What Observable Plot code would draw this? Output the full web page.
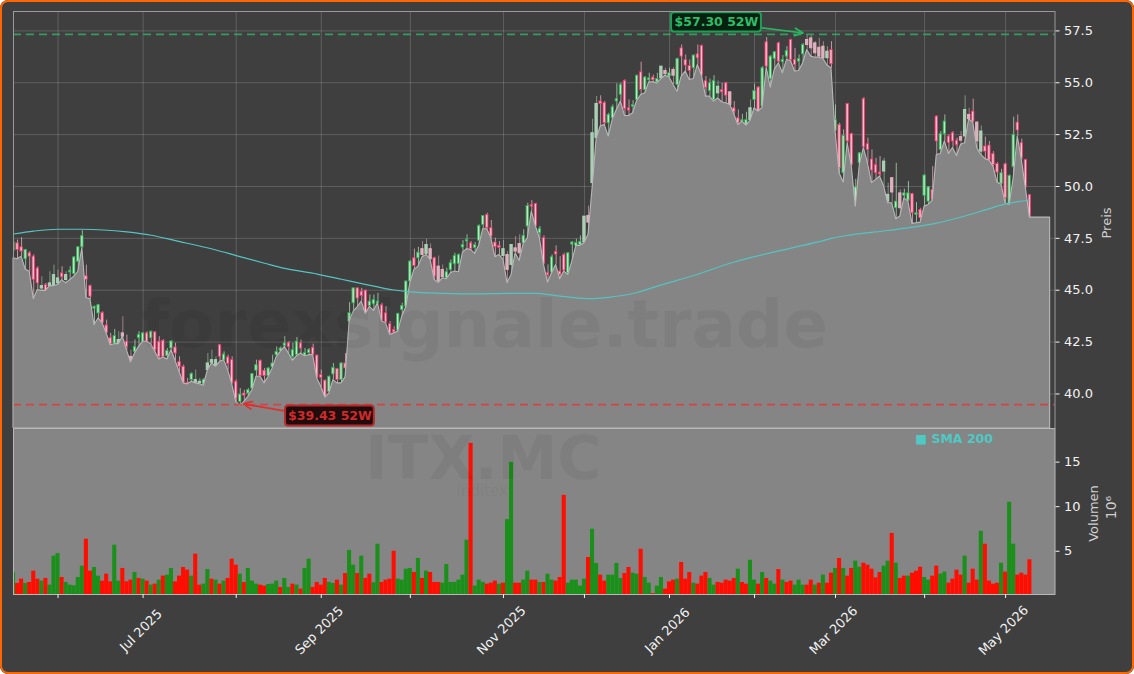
<!DOCTYPE html>
<html><head><meta charset="utf-8">
<script src="https://cdn.jsdelivr.net/npm/d3@7"></script>
<script src="https://cdn.jsdelivr.net/npm/@observablehq/plot@0.6"></script>
<style>
html,body{margin:0;padding:0;background:#fff;}
#chart{position:relative;width:1134px;height:674px;overflow:hidden;background:#3f3f3f;border-radius:8px;}
#chart svg{position:absolute;left:0;display:block;}
#edge{position:absolute;inset:0;border:2.5px solid #ff6600;border-radius:8px;box-sizing:border-box;pointer-events:none;}
</style></head><body>
<div id="chart"><div id="edge"></div></div>
<script>
const opens=[46.9,47.26,47.07,46.49,46.78,46.62,46.05,45.08,45.25,45.2,
45.25,45.33,45.81,45.49,45.86,45.78,46.37,47.07,45.68,45.2,
44.11,43.88,43.91,43.3,42.69,42.43,42.43,42.92,42.52,41.79,
42.03,42.69,42.52,42.92,42.68,42.97,42.52,42.56,41.82,42.19,
42.24,41.55,41.31,40.54,40.67,40.54,40.51,40.47,41.15,41.5,
41.39,42.35,41.63,41.76,41.63,40.59,39.62,40.02,40.02,40.26,
41.12,41.6,41.12,40.87,41.28,41.87,42.08,42.31,42.44,41.79,
41.87,42.44,41.85,41.98,42.23,41.85,40.91,40.64,40.1,40.94,
41.2,40.67,41.47,43.49,44.37,45.09,44.93,44.98,44.24,44.32,
44.37,44.29,43.89,43.37,43.08,43.05,44.05,44.21,45.42,46.54,
46.54,46.98,46.75,46.98,46.54,46.14,45.98,45.58,45.98,46.25,
46.27,47.06,47.35,47.26,47.04,47.39,48.15,48.63,47.99,47.3,
47.14,46.65,46.7,46.22,47.02,47.23,47.26,48.07,49.11,49.16,
47.75,47.51,45.82,45.85,46.85,45.9,46.69,45.82,47.2,47.14,
47.18,47.3,48.58,50.16,52.33,54.1,54.02,53.05,53.29,54.1,
54.42,55.09,53.77,53.85,54.17,55.5,54.65,55.12,55.25,55.02,
55.21,55.57,55.3,55.62,54.89,56.66,56.1,55.81,55.7,56.37,
56.77,55.09,54.6,54.17,54.49,54.65,54.97,54.54,53.77,53.29,
53.13,52.96,53.2,54.17,54.77,53.85,56.95,55.18,56.15,56.9,
55.99,56.26,57.06,56.1,56.02,56.37,57.06,57.14,56.9,56.69,
56.74,56.18,56.58,52.7,52.97,50.64,53.98,52.52,49.27,51.12,
54.21,52.04,51.3,51.04,50.67,50.72,49.27,50.4,48.95,49.67,
49.55,49.32,49.64,48.63,48.87,49.55,49.27,49.84,53.37,51.76,
52.52,52.41,52.57,52.21,52.38,52.41,53.45,53.61,53.08,51.68,
51.93,51.97,51.56,51.09,50.13,51.07,49.16,50.93,53.08,52.09,
51.28,49.58];
const highs=[47.42,47.42,47.53,46.97,46.86,46.7,46.13,45.65,45.33,45.89,
46.21,45.97,46.13,45.89,46.13,46.62,47.1,47.87,46.21,45.25,
44.24,44.32,43.96,43.56,42.92,43.11,43.0,43.72,42.84,42.11,
42.6,43.0,42.95,43.0,43.03,43.0,42.76,42.62,42.19,42.56,
42.44,41.79,41.39,40.75,41.02,41.15,40.75,40.75,41.95,42.11,
41.79,42.39,42.03,41.87,41.79,40.67,40.26,40.18,40.26,40.99,
41.63,41.63,41.23,41.26,41.87,42.27,42.27,42.76,42.52,42.44,
42.72,42.6,42.19,42.19,42.4,41.87,41.15,40.67,40.86,41.47,
41.23,41.5,41.95,44.4,45.09,45.1,45.09,45.0,44.77,44.77,
44.85,44.37,44.21,43.49,43.24,43.89,44.37,45.45,46.43,46.98,
47.07,47.35,47.46,47.23,46.59,46.65,46.22,46.06,46.46,46.78,
46.75,47.39,47.67,47.35,47.3,48.15,48.6,48.71,48.36,47.51,
47.35,47.39,46.86,47.18,47.59,47.67,47.91,49.19,49.32,49.19,
48.07,47.62,46.22,46.7,47.14,46.62,46.78,46.81,47.35,47.46,
47.62,48.55,49.06,53.24,54.34,54.37,54.1,53.53,53.93,54.95,
54.98,55.14,54.18,54.14,55.37,55.99,55.3,55.46,55.37,55.46,
55.78,55.7,55.7,55.73,56.18,56.82,56.34,56.1,56.34,56.82,
56.82,55.3,55.18,55.34,55.09,54.97,55.02,54.57,54.09,53.69,
53.48,53.58,54.17,54.93,54.81,55.78,57.18,56.31,56.5,56.95,
56.31,56.74,57.1,56.66,56.34,56.9,57.3,57.27,56.98,57.14,
56.98,56.74,56.98,53.93,53.05,52.73,54.0,52.57,50.35,51.63,
54.29,52.33,51.76,51.36,51.44,51.36,50.16,50.4,51.12,49.84,
49.87,50.24,49.67,49.23,48.95,50.56,50.0,50.96,53.4,52.65,
53.45,52.49,52.65,52.33,52.65,54.37,53.77,54.21,53.13,52.92,
52.38,52.17,51.68,51.15,50.83,51.12,50.56,53.34,53.45,52.28,
51.31,49.61];
const lows=[46.54,46.49,46.62,46.0,45.89,44.57,45.01,44.97,44.97,45.2,
45.2,45.25,45.49,45.33,45.49,45.65,45.89,47.02,44.61,44.57,
43.32,43.64,43.4,42.92,42.35,42.4,42.4,42.76,42.11,41.52,
41.95,42.27,42.52,42.52,42.4,42.03,41.66,41.76,41.66,42.11,
41.6,41.07,40.51,40.46,40.59,40.51,40.47,40.39,41.15,41.47,
41.31,41.55,41.63,41.15,40.47,39.62,39.43,39.62,39.86,40.18,
40.83,40.83,40.51,40.83,41.23,41.79,42.03,42.27,41.95,41.6,
41.82,41.95,41.82,41.87,41.87,40.75,40.35,39.83,40.02,40.67,
40.51,40.51,40.8,43.49,43.97,44.18,44.45,43.85,44.2,44.0,
44.37,43.49,43.41,42.84,42.92,43.0,43.73,44.18,45.34,45.98,
46.14,46.59,46.7,46.46,45.5,45.34,45.58,45.53,45.82,45.9,
45.87,46.81,46.98,46.94,46.75,47.14,47.94,47.94,47.5,46.59,
46.7,46.46,45.34,45.74,46.78,46.41,47.23,47.5,48.79,48.07,
47.5,46.22,45.37,45.82,46.22,45.53,45.9,45.74,46.38,47.14,
47.14,47.26,47.67,49.9,52.28,52.89,52.97,52.41,53.24,53.69,
54.1,53.4,53.4,53.53,54.12,54.41,54.49,55.02,55.02,54.97,
55.18,55.34,55.25,54.89,54.57,55.3,55.54,55.13,55.18,55.86,
55.34,54.33,54.33,54.09,54.25,54.06,54.01,53.93,53.48,52.96,
53.13,52.93,53.16,53.77,53.61,53.8,55.73,54.76,55.62,55.94,
55.46,56.1,56.05,55.54,55.57,55.94,56.58,56.26,56.21,56.21,
56.15,55.83,55.7,52.65,50.64,50.19,52.09,50.99,49.03,51.04,
51.85,51.12,50.16,50.32,50.48,50.0,49.19,49.19,48.42,48.55,
49.43,49.27,48.2,48.23,48.26,49.03,49.11,49.32,51.52,51.57,
52.17,51.57,51.85,51.47,52.01,52.09,53.24,53.08,51.85,51.52,
51.32,51.25,50.96,50.19,50.08,49.19,49.11,50.4,52.41,51.28,
49.92,48.5];
const closes=[47.3,46.94,46.86,46.94,46.62,45.49,45.33,45.2,44.97,45.33,
45.73,45.57,45.62,45.73,45.94,46.58,47.07,47.61,45.49,44.69,
44.2,44.28,43.43,42.95,42.4,42.79,42.6,42.76,42.27,41.63,
42.27,42.85,42.92,42.52,43.0,42.11,41.79,41.79,42.08,42.53,
41.95,41.31,40.54,40.46,40.96,40.67,40.59,40.67,41.47,41.63,
41.63,41.79,41.9,41.44,40.51,39.75,39.97,39.92,40.18,40.96,
41.39,40.86,40.86,41.23,41.47,42.03,42.19,42.44,42.27,42.11,
42.52,42.19,41.98,42.11,41.9,40.79,40.78,39.86,40.83,41.26,
40.67,41.47,41.23,43.9,45.09,44.6,44.72,43.89,44.45,44.53,
44.45,43.49,43.44,42.89,42.97,43.86,44.24,45.42,46.38,46.17,
46.81,46.7,47.18,46.49,45.66,45.42,45.63,45.87,46.3,46.65,
46.7,47.18,47.43,46.98,47.17,48.1,48.58,47.99,47.59,47.07,
47.04,46.98,45.98,47.18,46.86,46.78,47.62,49.06,49.03,48.1,
47.96,46.27,45.72,46.59,46.72,45.75,45.95,46.78,47.3,47.27,
47.34,48.55,48.26,52.57,53.98,53.98,53.05,53.45,53.82,54.21,
54.9,53.73,53.66,53.93,55.34,54.65,55.25,55.21,55.12,55.18,
55.78,55.41,55.46,55.34,56.15,56.26,55.83,55.57,56.31,56.18,
55.34,54.76,54.97,55.09,54.81,54.54,54.38,53.93,53.58,53.05,
53.2,53.2,53.77,54.6,53.64,55.7,55.78,56.26,56.47,56.02,
56.1,56.53,56.1,55.86,56.15,56.82,56.82,56.66,56.42,56.26,
56.18,56.5,55.89,53.21,50.88,52.44,52.17,51.04,49.96,51.6,
51.89,51.76,50.77,50.64,50.58,51.2,49.6,49.71,49.27,48.95,
49.67,49.67,48.71,48.71,48.47,50.53,49.96,49.35,52.17,52.52,
53.13,52.09,52.17,51.99,52.21,53.69,53.24,53.13,52.17,52.65,
51.68,51.25,51.04,50.67,50.64,49.43,50.51,52.49,52.7,51.36,
49.96,48.52];
const volumes=[2.62,1.39,1.87,1.39,1.5,2.77,1.87,1.65,1.95,1.2,
4.45,4.74,2.06,1.5,1.2,1.12,2.06,3.33,6.35,2.77,
3.18,2.21,1.65,2.43,1.57,5.68,1.65,3.07,1.57,1.76,
2.62,1.95,1.87,1.65,1.2,1.31,1.76,2.21,2.32,3.07,
1.57,2.21,3.18,2.88,2.21,4.67,1.2,1.31,2.95,1.87,
1.76,1.31,1.65,1.95,4.11,3.44,2.43,1.5,3.07,1.65,
1.31,1.2,1.09,1.27,1.31,1.65,0.94,1.95,0.94,1.31,
1.2,0.75,3.07,4.11,0.94,1.5,1.2,1.95,1.5,1.39,
1.76,1.2,2.5,5.1,3.44,2.5,4.45,1.95,2.43,1.46,
5.79,1.5,1.76,1.87,5.0,1.87,1.76,2.99,3.07,2.62,
4.19,1.95,2.77,2.62,1.5,1.5,1.42,3.51,1.5,1.5,
1.76,2.32,6.24,17.1,1.09,1.76,1.5,1.31,1.42,1.65,
1.31,1.42,8.55,14.97,1.42,1.42,1.76,2.77,1.76,1.76,
1.5,1.5,2.43,1.76,1.65,2.06,11.27,1.42,1.76,1.76,
1.09,1.87,4.3,7.47,3.63,2.32,1.65,2.32,2.32,3.63,
1.95,2.5,3.18,2.54,2.43,5.23,2.06,1.42,0.26,1.09,
2.06,0.75,1.57,1.76,1.87,3.74,1.87,2.62,1.42,1.31,
2.21,2.62,1.95,1.2,1.5,1.42,1.76,1.65,1.95,2.99,
1.5,1.31,3.99,1.76,1.31,2.62,1.95,1.65,1.31,2.95,
1.76,1.5,1.65,1.2,1.76,1.2,1.2,1.76,1.2,1.42,
2.32,1.42,2.54,3.07,4.19,3.07,2.21,3.07,3.89,3.21,
3.66,3.44,2.99,2.02,2.62,3.33,3.89,7.0,3.66,1.95,
2.21,2.21,2.54,2.77,3.21,2.06,1.76,2.21,3.33,2.43,
2.66,1.42,1.87,2.88,2.32,4.45,1.42,2.99,1.76,7.24,
5.79,1.65,1.31,1.42,3.66,2.66,10.49,5.79,2.32,2.54,
2.32,4.04];
const volumeSides=("GRRGRRRGRG"+"GGRGGGGGRR"+"GGRRRGGRRR"+"GRGRGRGRGG"+"RRRRGRRGGR"+
"GRGRRRGRGG"+"GRRGGGRGGR"+"GRGGRRRRGG"+"RGRGGRGRRG"+"GRRRRGGGGR"+
"GRGRRRGGGG"+"GGGRGGGRRR"+"GRGGRRGGRR"+"GRGGRRRGGG"+"GGRGGRRGGG"+
"GRRGGRGGRG"+"GRRRGRRRGR"+"RRGGRRRRRG"+"RRGGRGRGGR"+"GRRGGGRRGR"+
"GRRGRGRRGG"+"RRRRRGGRGR"+"RGRRRGGRRG"+"GRRRRGRRRG"+"RRRRGRGGRR"+"RR").split("");
// bars whose wick and body read much paler in the reference
const faintBars=[7,9,10,11,13,26,27,29,45,46,48,49,50,101,102,103,105,106,121,122,123,124,125,141,142,143,144,160,161,163,174,177,182,196,197,198,199,200,201,215,216,217,219,234,235,236,238,239];
const smaBars=[0,5,11,17,28,34,40,50,55,62,67,75,81,86,94,98,106,114,122,129,134,142,147,154,160,167,178,192,200,202,207,216,222,227,235,240,245,251];
const smaValues=[47.71,47.85,47.94,47.94,47.81,47.65,47.39,46.94,46.67,46.3,46.05,45.78,45.53,45.32,45.01,44.92,44.85,44.82,44.85,44.85,44.74,44.6,44.66,44.89,45.26,45.65,46.36,47.03,47.39,47.5,47.67,47.88,48.04,48.2,48.58,48.87,49.16,49.35];
const monthBars=[11,32,55,76,98,121,141,162,183,203,225,245];
const monthNames=["","Jul 2025","","Sep 2025","","Nov 2025","","Jan 2026","","Mar 2026","","May 2026"];
const priceTicks=[40,42.5,45,47.5,50,52.5,55,57.5];
const volumeTicks=[5,10,15];
const high52=57.33, low52=39.49;
const paddingBars=5;

const n=closes.length;
const font="DejaVu Sans";
const bgStyle={background:"transparent",fontFamily:font,fontSize:"13px",color:"#f2f2f2"};
const xDomain=[0,257.2];
const priceDomain=[38.335,58.435];
const volumeDomain=[0.15,18.77];
const candles=d3.range(n).map(i=>({i,o:opens[i],h:highs[i],l:lows[i],c:closes[i],up:closes[i]>=opens[i],faint:faintBars.includes(i)}));
const lowLine=candles.map(d=>({i:d.i,l:d.l})).concat(d3.range(1,paddingBars+1).map(k=>({i:n-1+k,l:lows[n-1]})));
const sma=smaBars.map((i,k)=>({i,v:smaValues[k]}));
const months=monthBars.map((i,k)=>({i,label:monthNames[k]}));
const vols=volumes.map((v,i)=>({i,v,side:volumeSides[i]}));
const bodyW=0.29;

const price=Plot.plot({
  width:1134,height:428,marginTop:11,marginBottom:0,marginLeft:13,marginRight:79.5,
  style:bgStyle,
  x:{domain:xDomain,axis:null},
  y:{domain:priceDomain,axis:null},
  marks:[
    Plot.gridX(monthBars,{stroke:"#fff",strokeOpacity:0.17,strokeWidth:1}),
    Plot.gridY(priceTicks,{stroke:"#fff",strokeOpacity:0.17,strokeWidth:1}),
    Plot.ruleX(candles,{x:"i",y1:"l",y2:"h",clip:true,strokeWidth:0.8,
      stroke:d=>d.up?"#b5e6c2":"#f6b9ca",strokeOpacity:d=>d.faint?0.65:0.9}),
    Plot.rect(candles,{x1:d=>d.i-bodyW,x2:d=>d.i+bodyW,y1:"o",y2:"c",clip:true,strokeWidth:0.9,
      fill:d=>d.faint?(d.up?"#b3c7b8":"#d4b6be"):(d.up?"#bfe6c8":"#f5c6d3"),
      stroke:d=>d.faint?(d.up?"#a9dab6":"#ecb0c1"):(d.up?"#2fb052":"#f2386c")}),
    Plot.areaY(lowLine,{x:"i",y1:()=>priceDomain[0],y2:"l",fill:"#858585",stroke:"#b8b8b8",strokeWidth:1.1}),
    Plot.text(["forexsignale.trade"],{frameAnchor:"middle",dx:-50,dy:106,fontFamily:font,fontWeight:"bold",fontSize:66,fill:"#000",fillOpacity:0.05}),
    Plot.ruleY([high52],{stroke:"#35a562",strokeWidth:1.8,strokeDasharray:"8 5",strokeOpacity:0.9}),
    Plot.ruleY([low52],{stroke:"#e03a3a",strokeWidth:1.8,strokeDasharray:"8 5",strokeOpacity:0.85}),
    Plot.line(sma,{x:"i",y:"v",stroke:"#55c4c0",strokeWidth:1.2,curve:"monotone-x"}),
    Plot.arrow([{x1:184.7,y1:57.65,x2:195,y2:57.4}],{x1:"x1",y1:"y1",x2:"x2",y2:"y2",bend:0,stroke:"#28b463",strokeWidth:1.7,headLength:8,headAngle:50}),
    Plot.arrow([{x1:67.2,y1:39.17,x2:56.8,y2:39.52}],{x1:"x1",y1:"y1",x2:"x2",y2:"y2",bend:0,stroke:"#e0302e",strokeWidth:1.7,headLength:8,headAngle:50}),
    Plot.rect([{x1:162.5,x2:184.7,y1:58.37,y2:57.45}],{x1:"x1",x2:"x2",y1:"y1",y2:"y2",fill:"#08200f",stroke:"#1e9e56",strokeWidth:2,rx:3}),
    Plot.text(["$57.30 52W"],{x:173.6,y:57.91,fontFamily:font,fontWeight:"bold",fontSize:12.5,fill:"#2ebd6a"}),
    Plot.rect([{x1:67.2,x2:89.1,y1:39.42,y2:38.45}],{x1:"x1",x2:"x2",y1:"y1",y2:"y2",fill:"#200c0c",stroke:"#b52a2a",strokeWidth:2,rx:3}),
    Plot.text(["$39.43 52W"],{x:78.15,y:38.93,fontFamily:font,fontWeight:"bold",fontSize:12.5,fill:"#cf2b2a"}),
    Plot.frame({stroke:"#9a9a9a",strokeWidth:1}),
    Plot.axisY(priceTicks,{anchor:"right",label:null,tickSize:4,tickPadding:5,tickFormat:d3.format(".1f"),fontSize:13,color:"#f2f2f2",fontFamily:font}),
    Plot.text(["Preis"],{frameAnchor:"right",textAnchor:"middle",dx:52,dy:3,rotate:-90,fontSize:13,fontFamily:font,fill:"#cfcfcf"})
  ]
});
price.style.top="0px";

const volume=Plot.plot({
  width:1134,height:246,marginTop:0,marginBottom:80,marginLeft:13,marginRight:79.5,
  style:bgStyle,
  x:{domain:xDomain,axis:null},
  y:{domain:volumeDomain,axis:null},
  color:{domain:["G","R"],range:["#1a8f1a","#ff0d00"]},
  marks:[
    Plot.frame({fill:"#858585"}),
    Plot.rectY(vols,{x1:d=>d.i-0.5,x2:d=>d.i+0.5,y1:()=>volumeDomain[0],y2:"v",fill:"side",clip:true,inset:0}),
    Plot.text(["ITX.MC"],{frameAnchor:"top",dx:-51,dy:8,fontFamily:font,fontWeight:"bold",fontSize:60,fill:"#000",fillOpacity:0.05}),
    Plot.text(["Inditex"],{frameAnchor:"top",dx:-52,dy:57,fontFamily:font,fontSize:15,fill:"#000",fillOpacity:0.05}),
    Plot.text(["■ SMA 200"],{frameAnchor:"top-right",dx:-62,dy:10,lineAnchor:"middle",fontFamily:font,fontWeight:"bold",fontSize:12.5,fill:"#4fc9c4"}),
    Plot.frame({stroke:"#b8b8b8",strokeWidth:1}),
    Plot.axisY(volumeTicks,{anchor:"right",label:null,tickSize:4,tickPadding:5,fontSize:13,color:"#f2f2f2",fontFamily:font}),
    Plot.axisX(monthBars,{anchor:"bottom",label:null,tickSize:4,tickFormat:()=>"",color:"#f2f2f2"}),
    Plot.text(months,{x:"i",text:"label",frameAnchor:"bottom",dx:-2,dy:36,rotate:-45,lineAnchor:"middle",textAnchor:"middle",fontSize:13,fontFamily:font,fill:"#f2f2f2"}),
    Plot.text(["Volumen"],{frameAnchor:"right",textAnchor:"middle",dx:39,dy:2,rotate:-90,fontSize:13,fontFamily:font,fill:"#cfcfcf"}),
    Plot.text(["10⁶"],{frameAnchor:"right",textAnchor:"middle",dx:57,dy:-4,rotate:-90,fontSize:14,fontFamily:font,fill:"#cfcfcf"})
  ]
});
volume.style.top="428px";
const host=document.getElementById("chart");
host.insertBefore(volume,host.firstChild);
host.insertBefore(price,host.firstChild);
</script></body></html>
